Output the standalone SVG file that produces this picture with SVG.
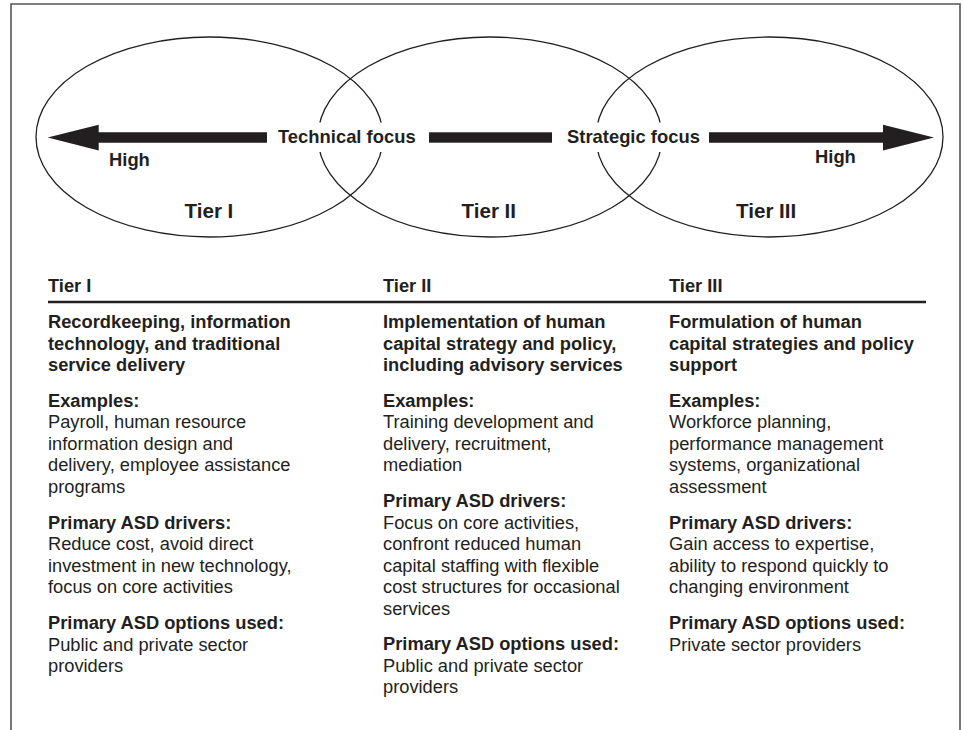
<svg xmlns="http://www.w3.org/2000/svg" width="964" height="730" viewBox="0 0 964 730">
<style>
  text { font-family: "Liberation Sans", Arial, Helvetica, sans-serif; fill: #231f20; }
  .b { font-weight: bold; }
  .body { font-size: 18.3px; }
  .top { font-size: 18.4px; font-weight: bold; }
  .tier { font-size: 20.6px; font-weight: bold; }
  .ell { fill: none; stroke: #231f20; stroke-width: 1.3; }
  .shaft { fill: #231f20; }
  .mask { fill: #ffffff; }
</style>
<rect width="964" height="730" fill="#ffffff"/>
<path d="M11,730 V4 H960 V730" fill="none" stroke="#555555" stroke-width="1.6"/>

<g id="tier1-ellipse">
  <ellipse class="ell" cx="209.5" cy="137" rx="173.5" ry="100"/>
  <text class="top" x="109" y="165.5">High</text>
  <text class="tier" x="184.5" y="217.5">Tier I</text>
</g>
<g id="tier2-ellipse">
  <ellipse class="ell" cx="490" cy="137" rx="172" ry="100"/>
  <text class="tier" x="461.5" y="217.5">Tier II</text>
</g>
<g id="tier3-ellipse">
  <ellipse class="ell" cx="769.5" cy="137" rx="173.5" ry="100"/>
  <text class="top" x="815" y="163">High</text>
  <text class="tier" x="736" y="218">Tier III</text>
</g>

<g id="connectors">
  <polygon class="shaft" points="47.7,137.5 98.7,124.8 98.7,132.3 267,132.3 267,142.7 98.7,142.7 98.7,150.5"/>
  <rect class="shaft" x="429" y="132.3" width="123" height="10.4"/>
  <polygon class="shaft" points="709,132.3 883,132.3 883,124.8 934,137.5 883,150.5 883,142.7 709,142.7"/>
  <rect class="mask" x="272" y="122.5" width="151" height="29.5"/>
  <rect class="mask" x="560" y="122.5" width="145" height="29.5"/>
  <text class="top" x="278" y="143.3">Technical focus</text>
  <text class="top" x="567" y="143.3">Strategic focus</text>
</g>

<line x1="48" y1="302" x2="926" y2="302" stroke="#231f20" stroke-width="2.6"/>

<g id="tier1-column" class="body">
  <text class="b" x="48" y="292">Tier I</text>
  <text class="b" x="48" y="328"><tspan x="48">Recordkeeping, information</tspan><tspan x="48" dy="21.6">technology, and traditional</tspan><tspan x="48" dy="21.6">service delivery</tspan></text>
  <text class="b" x="48" y="406.5">Examples:</text>
  <text x="48" y="428.1"><tspan x="48">Payroll, human resource</tspan><tspan x="48" dy="21.6">information design and</tspan><tspan x="48" dy="21.6">delivery, employee assistance</tspan><tspan x="48" dy="21.6">programs</tspan></text>
  <text class="b" x="48" y="528.5">Primary ASD drivers:</text>
  <text x="48" y="550.1"><tspan x="48">Reduce cost, avoid direct</tspan><tspan x="48" dy="21.6">investment in new technology,</tspan><tspan x="48" dy="21.6">focus on core activities</tspan></text>
  <text class="b" x="48" y="629">Primary ASD options used:</text>
  <text x="48" y="650.6"><tspan x="48">Public and private sector</tspan><tspan x="48" dy="21.6">providers</tspan></text>
</g>

<g id="tier2-column" class="body">
  <text class="b" x="383" y="292">Tier II</text>
  <text class="b" x="383" y="328"><tspan x="383">Implementation of human</tspan><tspan x="383" dy="21.6">capital strategy and policy,</tspan><tspan x="383" dy="21.6">including advisory services</tspan></text>
  <text class="b" x="383" y="406.5">Examples:</text>
  <text x="383" y="428.1"><tspan x="383">Training development and</tspan><tspan x="383" dy="21.6">delivery, recruitment,</tspan><tspan x="383" dy="21.6">mediation</tspan></text>
  <text class="b" x="383" y="507">Primary ASD drivers:</text>
  <text x="383" y="528.6"><tspan x="383">Focus on core activities,</tspan><tspan x="383" dy="21.6">confront reduced human</tspan><tspan x="383" dy="21.6">capital staffing with flexible</tspan><tspan x="383" dy="21.6">cost structures for occasional</tspan><tspan x="383" dy="21.6">services</tspan></text>
  <text class="b" x="383" y="650">Primary ASD options used:</text>
  <text x="383" y="671.6"><tspan x="383">Public and private sector</tspan><tspan x="383" dy="21.6">providers</tspan></text>
</g>

<g id="tier3-column" class="body">
  <text class="b" x="669" y="292">Tier III</text>
  <text class="b" x="669" y="328"><tspan x="669">Formulation of human</tspan><tspan x="669" dy="21.6">capital strategies and policy</tspan><tspan x="669" dy="21.6">support</tspan></text>
  <text class="b" x="669" y="406.5">Examples:</text>
  <text x="669" y="428.1"><tspan x="669">Workforce planning,</tspan><tspan x="669" dy="21.6">performance management</tspan><tspan x="669" dy="21.6">systems, organizational</tspan><tspan x="669" dy="21.6">assessment</tspan></text>
  <text class="b" x="669" y="528.5">Primary ASD drivers:</text>
  <text x="669" y="550.1"><tspan x="669">Gain access to expertise,</tspan><tspan x="669" dy="21.6">ability to respond quickly to</tspan><tspan x="669" dy="21.6">changing environment</tspan></text>
  <text class="b" x="669" y="629">Primary ASD options used:</text>
  <text x="669" y="650.6"><tspan x="669">Private sector providers</tspan></text>
</g>
</svg>
